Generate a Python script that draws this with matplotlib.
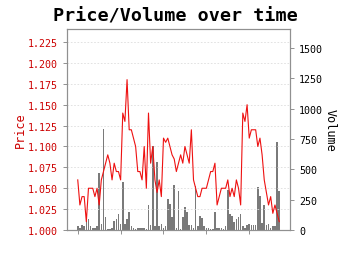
import numpy as np
import matplotlib
matplotlib.use("Agg")
import matplotlib.pyplot as plt

plt.rcParams['font.family'] = ['DejaVu Sans Mono']

# daily price (close)
price = [1.06, 1.03, 1.04, 1.04, 1.01, 1.05, 1.05, 1.05, 1.04, 1.05,
         1.03, 1.06, 1.07, 1.08, 1.09, 1.08, 1.06, 1.08, 1.07, 1.07,
         1.06, 1.14, 1.13, 1.18, 1.12, 1.12, 1.11, 1.10, 1.07, 1.07,
         1.06, 1.10, 1.05, 1.14, 1.08, 1.10, 1.06, 1.045, 1.06, 1.04,
         1.11, 1.105, 1.11, 1.10, 1.09, 1.085, 1.07, 1.08, 1.09, 1.08,
         1.10, 1.09, 1.08, 1.12, 1.06, 1.05, 1.04, 1.04, 1.05, 1.05,
         1.05, 1.06, 1.07, 1.07, 1.08, 1.03, 1.04, 1.05, 1.05, 1.05,
         1.06, 1.04, 1.05, 1.04, 1.06, 1.05, 1.03, 1.14, 1.13, 1.15,
         1.11, 1.12, 1.12, 1.12, 1.10, 1.11, 1.09, 1.06, 1.045, 1.03,
         1.04, 1.02, 1.03, 1.02, 1.01]

volume = [36, 20, 40, 36, 118, 90, 30, 20, 15, 36,
          467, 50, 832, 104, 10, 5, 20, 77, 90, 132,
          50, 393, 50, 90, 146, 30, 20, 10, 14, 20,
          14, 20, 10, 206, 41, 690, 30, 560, 30, 50,
          20, 36, 256, 214, 110, 371, 20, 324, 10, 104,
          187, 151, 40, 40, 20, 365, 30, 113, 96, 30,
          20, 14, 5, 10, 151, 20, 20, 14, 10, 30,
          330, 132, 118, 63, 90, 104, 132, 30, 20, 41,
          50, 41, 41, 41, 352, 278, 60, 206, 41, 50,
          14, 36, 36, 723, 324]

days = np.arange(len(price))
price_ticks = [1.000, 1.025, 1.050, 1.075, 1.100, 1.125, 1.150, 1.175, 1.200, 1.225]
vol_ticks = [0, 250, 500, 750, 1000, 1250, 1500]

fig = plt.figure(figsize=(3.5, 2.55), dpi=100)
ax = fig.add_axes([0.191, 0.094, 0.638, 0.788])
ax2 = ax.twinx()

# volume behind price
ax2.set_zorder(ax.get_zorder() - 1)
ax.patch.set_visible(False)

ax2.bar(days, volume, width=0.7, color='#7a7a7a')
ax.plot(days, price, color='#ee1111', lw=0.8)

ax.set_ylim(1.0, 1.2405)
ax2.set_ylim(0, 1657)
ax.set_yticks(price_ticks)
ax.set_yticklabels(['%.3f' % t for t in price_ticks])
ax2.set_yticks(vol_ticks)
ax.set_xticks([0, 20, 40, 60, 80])
ax.set_xticklabels([])

ax.grid(axis='y', color='#dddddd', ls=(0, (2, 2)), lw=0.6)

ax.tick_params(axis='y', colors='#808080', labelcolor='#cc0000', labelsize=7.2, length=3, width=0.6)
ax.tick_params(axis='x', colors='#808080', length=3, width=0.6)
ax2.tick_params(axis='y', colors='#808080', labelcolor='black', labelsize=7.2, length=3, width=0.6)

for a in (ax, ax2):
    for s in a.spines.values():
        s.set_color('#909090')
        s.set_linewidth(0.8)

ax.set_ylabel('Price', color='#cc0000', fontsize=8.5, labelpad=1)
ax2.set_ylabel('Volume', fontsize=8.5, rotation=270, labelpad=10)
fig.suptitle('Price/Volume over time', fontsize=13.2, fontweight='bold', y=0.97)

fig.savefig('out.png', dpi=100)
